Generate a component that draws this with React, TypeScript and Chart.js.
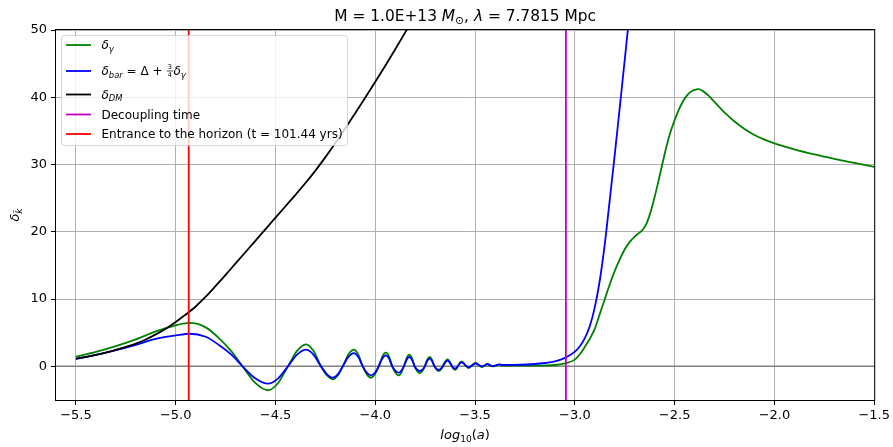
import React, { useEffect, useRef } from 'react';
import { Chart, registerables } from 'chart.js';

Chart.register(...registerables);

// ---------- axis ranges & ticks ----------
const X_MIN = -5.6;
const X_MAX = -1.5;
const Y_MIN = -5;
const Y_MAX = 50;
const X_TICKS = [-5.5, -5.0, -4.5, -4.0, -3.5, -3.0, -2.5, -2.0, -1.5];
const Y_TICKS = [0, 10, 20, 30, 40, 50];

// ---------- reference lines ----------
const HORIZON_LOG_A = -4.935;
const DECOUPLING_LOG_A = -3.045;

// ---------- delta_gamma ----------
const GAMMA_X = [
  -5.5, -5.4, -5.3, -5.2, -5.1, -5.0, -4.93, -4.85, -4.78, -4.72, -4.665,
  -4.6, -4.538, -4.488, -4.438, -4.392, -4.347, -4.31, -4.272, -4.242, -4.213, -4.188, -4.163,
  -4.135, -4.108, -4.085, -4.063, -4.042, -4.022, -4.002, -3.983, -3.965, -3.948, -3.931, -3.915,
  -3.899, -3.883, -3.87, -3.857, -3.843, -3.83, -3.816, -3.803, -3.79, -3.777, -3.764, -3.752,
  -3.74, -3.727, -3.716, -3.705, -3.694, -3.683, -3.671, -3.66, -3.649, -3.638, -3.628, -3.619,
  -3.61, -3.6, -3.592, -3.584, -3.576, -3.567, -3.558, -3.55, -3.533, -3.515, -3.497, -3.482,
  -3.467, -3.452, -3.438, -3.425, -3.413, -3.396, -3.38, -3.36, -3.3, -3.2, -3.1,
  -3.05, -3.0, -2.975, -2.95, -2.925, -2.9, -2.875, -2.85, -2.825, -2.8, -2.775, -2.75, -2.725,
  -2.7, -2.68, -2.66, -2.64, -2.62, -2.6, -2.58, -2.56, -2.54, -2.52, -2.5, -2.48, -2.46, -2.44,
  -2.42, -2.4, -2.38, -2.36, -2.33, -2.3, -2.27, -2.24, -2.2, -2.15, -2.1, -2.05, -2.0, -1.9,
  -1.8, -1.7, -1.6, -1.5,
];
const GAMMA_Y = [
  1.45, 2.15, 3.0, 4.0, 5.2, 6.1, 6.45, 5.8, 4.1, 2.2, 0,
  -2.5, -3.55, -2.51, 0, 2.31, 3.27, 2.31, 0, -1.36, -1.93, -1.36, 0,
  1.75, 2.48, 1.75, 0, -1.19, -1.69, -1.19, 0, 1.44, 2.03, 1.44, 0,
  -0.95, -1.34, -0.95, 0, 1.23, 1.74, 1.23, 0, -0.7, -0.99, -0.7, 0,
  0.98, 1.39, 0.98, 0.1, -0.45, -0.69, -0.45, 0.1, 0.75, 1.04, 0.75, 0.2,
  -0.3, -0.5, -0.3, 0.15, 0.55, 0.74, 0.55, 0.2, -0.25, 0.15, 0.55, 0.2,
  -0.1, 0.1, 0.35, 0.15, 0.0, 0.1, 0.25, 0.1, 0.1, 0.1, 0.2,
  0.45, 1.0, 1.8, 2.9, 4.1, 5.6, 7.8, 10.0, 12.2, 14.2, 15.9, 17.4, 18.5,
  19.3, 19.8, 20.3, 21.3, 23.0, 25.2, 27.7, 30.3, 32.8, 34.9, 36.6, 38.1, 39.3, 40.2,
  40.8, 41.1, 41.2, 40.95, 40.25, 39.3, 38.35, 37.45, 36.4, 35.3, 34.4, 33.7, 33.15, 32.25,
  31.5, 30.85, 30.25, 29.65,
];

// ---------- delta_bar ----------
const BAR_X = [
  -5.5, -5.4, -5.3, -5.2, -5.1, -5.0, -4.93, -4.85, -4.78, -4.72, -4.665,
  -4.6, -4.538, -4.488, -4.438, -4.392, -4.347, -4.31, -4.272, -4.242, -4.213, -4.188, -4.163,
  -4.135, -4.108, -4.085, -4.063, -4.042, -4.022, -4.002, -3.983, -3.965, -3.948, -3.931, -3.915,
  -3.899, -3.883, -3.87, -3.857, -3.843, -3.83, -3.816, -3.803, -3.79, -3.777, -3.764, -3.752,
  -3.74, -3.727, -3.716, -3.705, -3.694, -3.683, -3.671, -3.66, -3.649, -3.638, -3.628, -3.619,
  -3.61, -3.6, -3.592, -3.584, -3.576, -3.567, -3.558, -3.55, -3.533, -3.515, -3.497, -3.482,
  -3.467, -3.452, -3.438, -3.425, -3.413, -3.396, -3.38, -3.36, -3.3, -3.2, -3.15, -3.1,
  -3.047, -3.0, -2.975, -2.95, -2.925, -2.9, -2.875, -2.85, -2.825, -2.8, -2.775, -2.75, -2.725, -2.7,
];
const BAR_Y = [
  1.1, 1.7, 2.4, 3.2, 4.1, 4.6, 4.85, 4.4, 3.1, 1.7, 0,
  -1.82, -2.58, -1.82, 0, 1.75, 2.48, 1.75, 0, -1.19, -1.69, -1.19, 0,
  1.4, 1.98, 1.4, 0, -0.95, -1.34, -0.95, 0, 1.16, 1.64, 1.16, 0,
  -0.66, -0.94, -0.66, 0, 0.98, 1.39, 0.98, 0, -0.49, -0.69, -0.49, 0,
  0.8, 1.14, 0.8, 0.1, -0.33, -0.5, -0.33, 0.1, 0.6, 0.84, 0.6, 0.2,
  -0.2, -0.35, -0.2, 0.15, 0.45, 0.6, 0.45, 0.2, -0.15, 0.15, 0.45, 0.2,
  0.0, 0.15, 0.35, 0.15, 0.05, 0.15, 0.3, 0.2, 0.22, 0.35, 0.5, 0.75,
  1.3, 2.2, 3.0, 4.2, 6.0, 8.8, 12.8, 18.2, 24.8, 31.5, 38.5, 45.6, 52.8, 60.0,
];

// ---------- delta_DM ----------
const DM_X = [
  -5.5, -5.45, -5.4, -5.35, -5.3, -5.25, -5.2, -5.15, -5.1, -5.05, -5.0, -4.95, -4.9, -4.85, -4.8,
  -4.75, -4.7, -4.65, -4.6, -4.55, -4.5, -4.45, -4.4, -4.35, -4.3, -4.25, -4.2, -4.15, -4.1, -4.05,
  -4.0, -3.95, -3.9, -3.85, -3.8,
];
const DM_Y = [
  1.13, 1.4, 1.7, 2.05, 2.45, 2.9, 3.4, 4.0, 4.75, 5.6, 6.6, 7.7, 8.9, 10.35, 11.95,
  13.6, 15.3, 17.0, 18.7, 20.4, 22.1, 23.8, 25.5, 27.25, 29.1, 31.1, 33.2, 35.4, 37.65, 39.95,
  42.3, 44.7, 47.15, 49.65, 52.2,
];

const GREEN = '#008000';
const BLUE = '#0000ff';
const BLACK = '#000000';
const MAGENTA = '#bf00bf';
const RED = '#ff0000';

type Seg = { t: string; it?: boolean; sub?: boolean; frac?: [string, string] };

const TITLE_SEGS: Seg[] = [
  { t: 'M = 1.0E+13 ' },
  { t: 'M', it: true },
  { t: '\u2299', sub: true },
  { t: ', ' },
  { t: '\u03bb', it: true },
  { t: ' = 7.7815 Mpc' },
];
const X_LABEL: Seg[] = [{ t: 'log', it: true }, { t: '10', sub: true }, { t: '(' }, { t: 'a', it: true }, { t: ')' }];
const Y_LABEL: Seg[] = [{ t: '\u03b4', it: true }, { t: 'k\u0303', it: true, sub: true }];

const LEGEND_LABELS: Seg[][] = [
  [{ t: '\u03b4', it: true }, { t: '\u03b3', it: true, sub: true }],
  [
    { t: '\u03b4', it: true },
    { t: 'bar', it: true, sub: true },
    { t: ' = \u0394 + ' },
    { t: '', frac: ['3', '4'] },
    { t: '\u03b4', it: true },
    { t: '\u03b3', it: true, sub: true },
  ],
  [{ t: '\u03b4', it: true }, { t: 'DM', it: true, sub: true }],
  [{ t: 'Decoupling time' }],
  [{ t: 'Entrance to the horizon (t = 101.44 yrs)' }],
];
const LEGEND_COLORS = [GREEN, BLUE, BLACK, MAGENTA, RED];

const FAMILY = "'DejaVu Sans', sans-serif";
const fontOf = (size: number, it?: boolean) => `${it ? 'italic ' : ''}${size}px ${FAMILY}`;

function segWidth(ctx: CanvasRenderingContext2D, s: Seg, size: number) {
  if (s.frac) {
    ctx.font = fontOf(size * 0.55);
    return Math.max(ctx.measureText(s.frac[0]).width, ctx.measureText(s.frac[1]).width) + 3;
  }
  ctx.font = fontOf(s.sub ? size * 0.7 : size, s.it);
  return ctx.measureText(s.t).width;
}

function drawRich(
  ctx: CanvasRenderingContext2D,
  segs: Seg[],
  x: number,
  baseline: number,
  size: number,
  align: 'left' | 'center',
  color = '#000'
) {
  let total = 0;
  for (const s of segs) total += segWidth(ctx, s, size);
  let cx = align === 'center' ? x - total / 2 : x;
  ctx.fillStyle = color;
  ctx.strokeStyle = color;
  ctx.textAlign = 'left';
  ctx.textBaseline = 'alphabetic';
  for (const s of segs) {
    const w = segWidth(ctx, s, size);
    if (s.frac) {
      const fs = size * 0.55;
      ctx.font = fontOf(fs);
      const nw = ctx.measureText(s.frac[0]).width;
      const dw = ctx.measureText(s.frac[1]).width;
      ctx.fillText(s.frac[0], cx + (w - nw) / 2, baseline - size * 0.52);
      ctx.fillText(s.frac[1], cx + (w - dw) / 2, baseline + size * 0.14);
      ctx.lineWidth = 0.7;
      ctx.beginPath();
      ctx.moveTo(cx + 0.5, baseline - size * 0.37);
      ctx.lineTo(cx + w - 0.5, baseline - size * 0.37);
      ctx.stroke();
    } else {
      ctx.font = fontOf(s.sub ? size * 0.7 : size, s.it);
      ctx.fillText(s.t, cx, s.sub ? baseline + size * 0.2 : baseline);
    }
    cx += w;
  }
}

const decorPlugin = {
  id: 'mplDecor',
  afterDatasetsDraw(chart: any) {
    const { ctx, chartArea: a } = chart;
    ctx.save();
    ctx.strokeStyle = '#000';
    ctx.lineWidth = 1;
    ctx.strokeRect(a.left - 0.5, a.top - 0.5, a.right - a.left + 1, a.bottom - a.top + 1);
    ctx.restore();
  },
  afterDraw(chart: any) {
    const { ctx, chartArea: a } = chart;
    const cx = (a.left + a.right) / 2;
    const cy = (a.top + a.bottom) / 2;
    ctx.save();
    // title
    drawRich(ctx, TITLE_SEGS, cx, 20.5, 15.4, 'center');
    // x label
    drawRich(ctx, X_LABEL, cx, 439, 13, 'center');
    // y label (rotated)
    ctx.save();
    ctx.translate(19, cy);
    ctx.rotate(-Math.PI / 2);
    drawRich(ctx, Y_LABEL, 0, 0, 13, 'center');
    ctx.restore();

    // legend
    const bx = a.left + 5.5;
    const by = a.top + 5.5;
    const bw = 286;
    const bh = 110;
    ctx.beginPath();
    if ((ctx as any).roundRect) (ctx as any).roundRect(bx, by, bw, bh, 3);
    else ctx.rect(bx, by, bw, bh);
    ctx.fillStyle = 'rgba(255,255,255,0.8)';
    ctx.fill();
    ctx.strokeStyle = 'rgba(204,204,204,0.8)';
    ctx.lineWidth = 1;
    ctx.stroke();

    const rowsY = [45, 71, 94.5, 114.5, 134];
    LEGEND_LABELS.forEach((segs, i) => {
      const y = rowsY[i];
      ctx.strokeStyle = LEGEND_COLORS[i];
      ctx.lineWidth = 1.8;
      ctx.beginPath();
      ctx.moveTo(a.left + 10, y);
      ctx.lineTo(a.left + 35, y);
      ctx.stroke();
      drawRich(ctx, segs, a.left + 45.5, y + 4.4, 12, 'left');
    });
    ctx.restore();
  },
};

const zip = (xs: number[], ys: number[]) => xs.map((x, i) => ({ x, y: ys[i] }));

export default function App() {
  const ref = useRef<HTMLCanvasElement | null>(null);

  useEffect(() => {
    document.body.style.margin = '0';
    if (!ref.current) return;
    Chart.defaults.font.family = FAMILY;
    const curve = (data: any, color: string) => ({
      data,
      borderColor: color,
      backgroundColor: color,
      borderWidth: 1.8,
      pointRadius: 0,
      fill: false,
      cubicInterpolationMode: 'monotone' as const,
    });
    const straight = (data: any, color: string, width: number) => ({
      data,
      borderColor: color,
      backgroundColor: color,
      borderWidth: width,
      pointRadius: 0,
      fill: false,
      tension: 0,
    });
    const chart = new Chart(ref.current, {
      type: 'line',
      data: {
        datasets: [
          straight([{ x: HORIZON_LOG_A, y: Y_MIN }, { x: HORIZON_LOG_A, y: Y_MAX }], RED, 1.8),
          straight([{ x: DECOUPLING_LOG_A, y: Y_MIN }, { x: DECOUPLING_LOG_A, y: Y_MAX }], MAGENTA, 1.8),
          curve(zip(DM_X, DM_Y), BLACK),
          curve(zip(BAR_X, BAR_Y), BLUE),
          curve(zip(GAMMA_X, GAMMA_Y), GREEN),
          straight([{ x: X_MIN, y: 0 }, { x: X_MAX, y: 0 }], '#808080', 1.5),
        ] as any,
      },
      options: {
        animation: false,
        responsive: false,
        layout: { padding: { left: 0, right: 17, top: 30, bottom: 0 } },
        plugins: {
          legend: { display: false },
          tooltip: { enabled: false },
          title: { display: false },
        },
        scales: {
          x: {
            type: 'linear',
            min: X_MIN,
            max: X_MAX,
            afterBuildTicks: (scale: any) => {
              scale.ticks = X_TICKS.map((v) => ({ value: v }));
            },
            afterFit: (scale: any) => {
              scale.height = 47;
            },
            ticks: {
              color: '#000',
              font: { size: 13, family: FAMILY },
              padding: 3,
              maxRotation: 0,
              autoSkip: false,
              callback: (v: any) => Number(v).toFixed(1).replace('-', '\u2212'),
            },
            grid: { color: '#b0b0b0', lineWidth: 1, drawTicks: true, tickLength: 5, tickColor: '#000' },
            border: { display: false },
          },
          y: {
            type: 'linear',
            min: Y_MIN,
            max: Y_MAX,
            afterBuildTicks: (scale: any) => {
              scale.ticks = Y_TICKS.map((v) => ({ value: v }));
            },
            afterFit: (scale: any) => {
              scale.width = 56;
            },
            ticks: {
              color: '#000',
              font: { size: 13, family: FAMILY },
              padding: 4,
              autoSkip: false,
              callback: (v: any) => String(v).replace('-', '\u2212'),
            },
            grid: { color: '#b0b0b0', lineWidth: 1, drawTicks: true, tickLength: 5, tickColor: '#000' },
            border: { display: false },
          },
        },
      },
      plugins: [decorPlugin],
    });
    return () => chart.destroy();
  }, []);

  return (
    <div style={{ width: 893, height: 447 }}>
      <canvas ref={ref} width={893} height={447} />
    </div>
  );
}
